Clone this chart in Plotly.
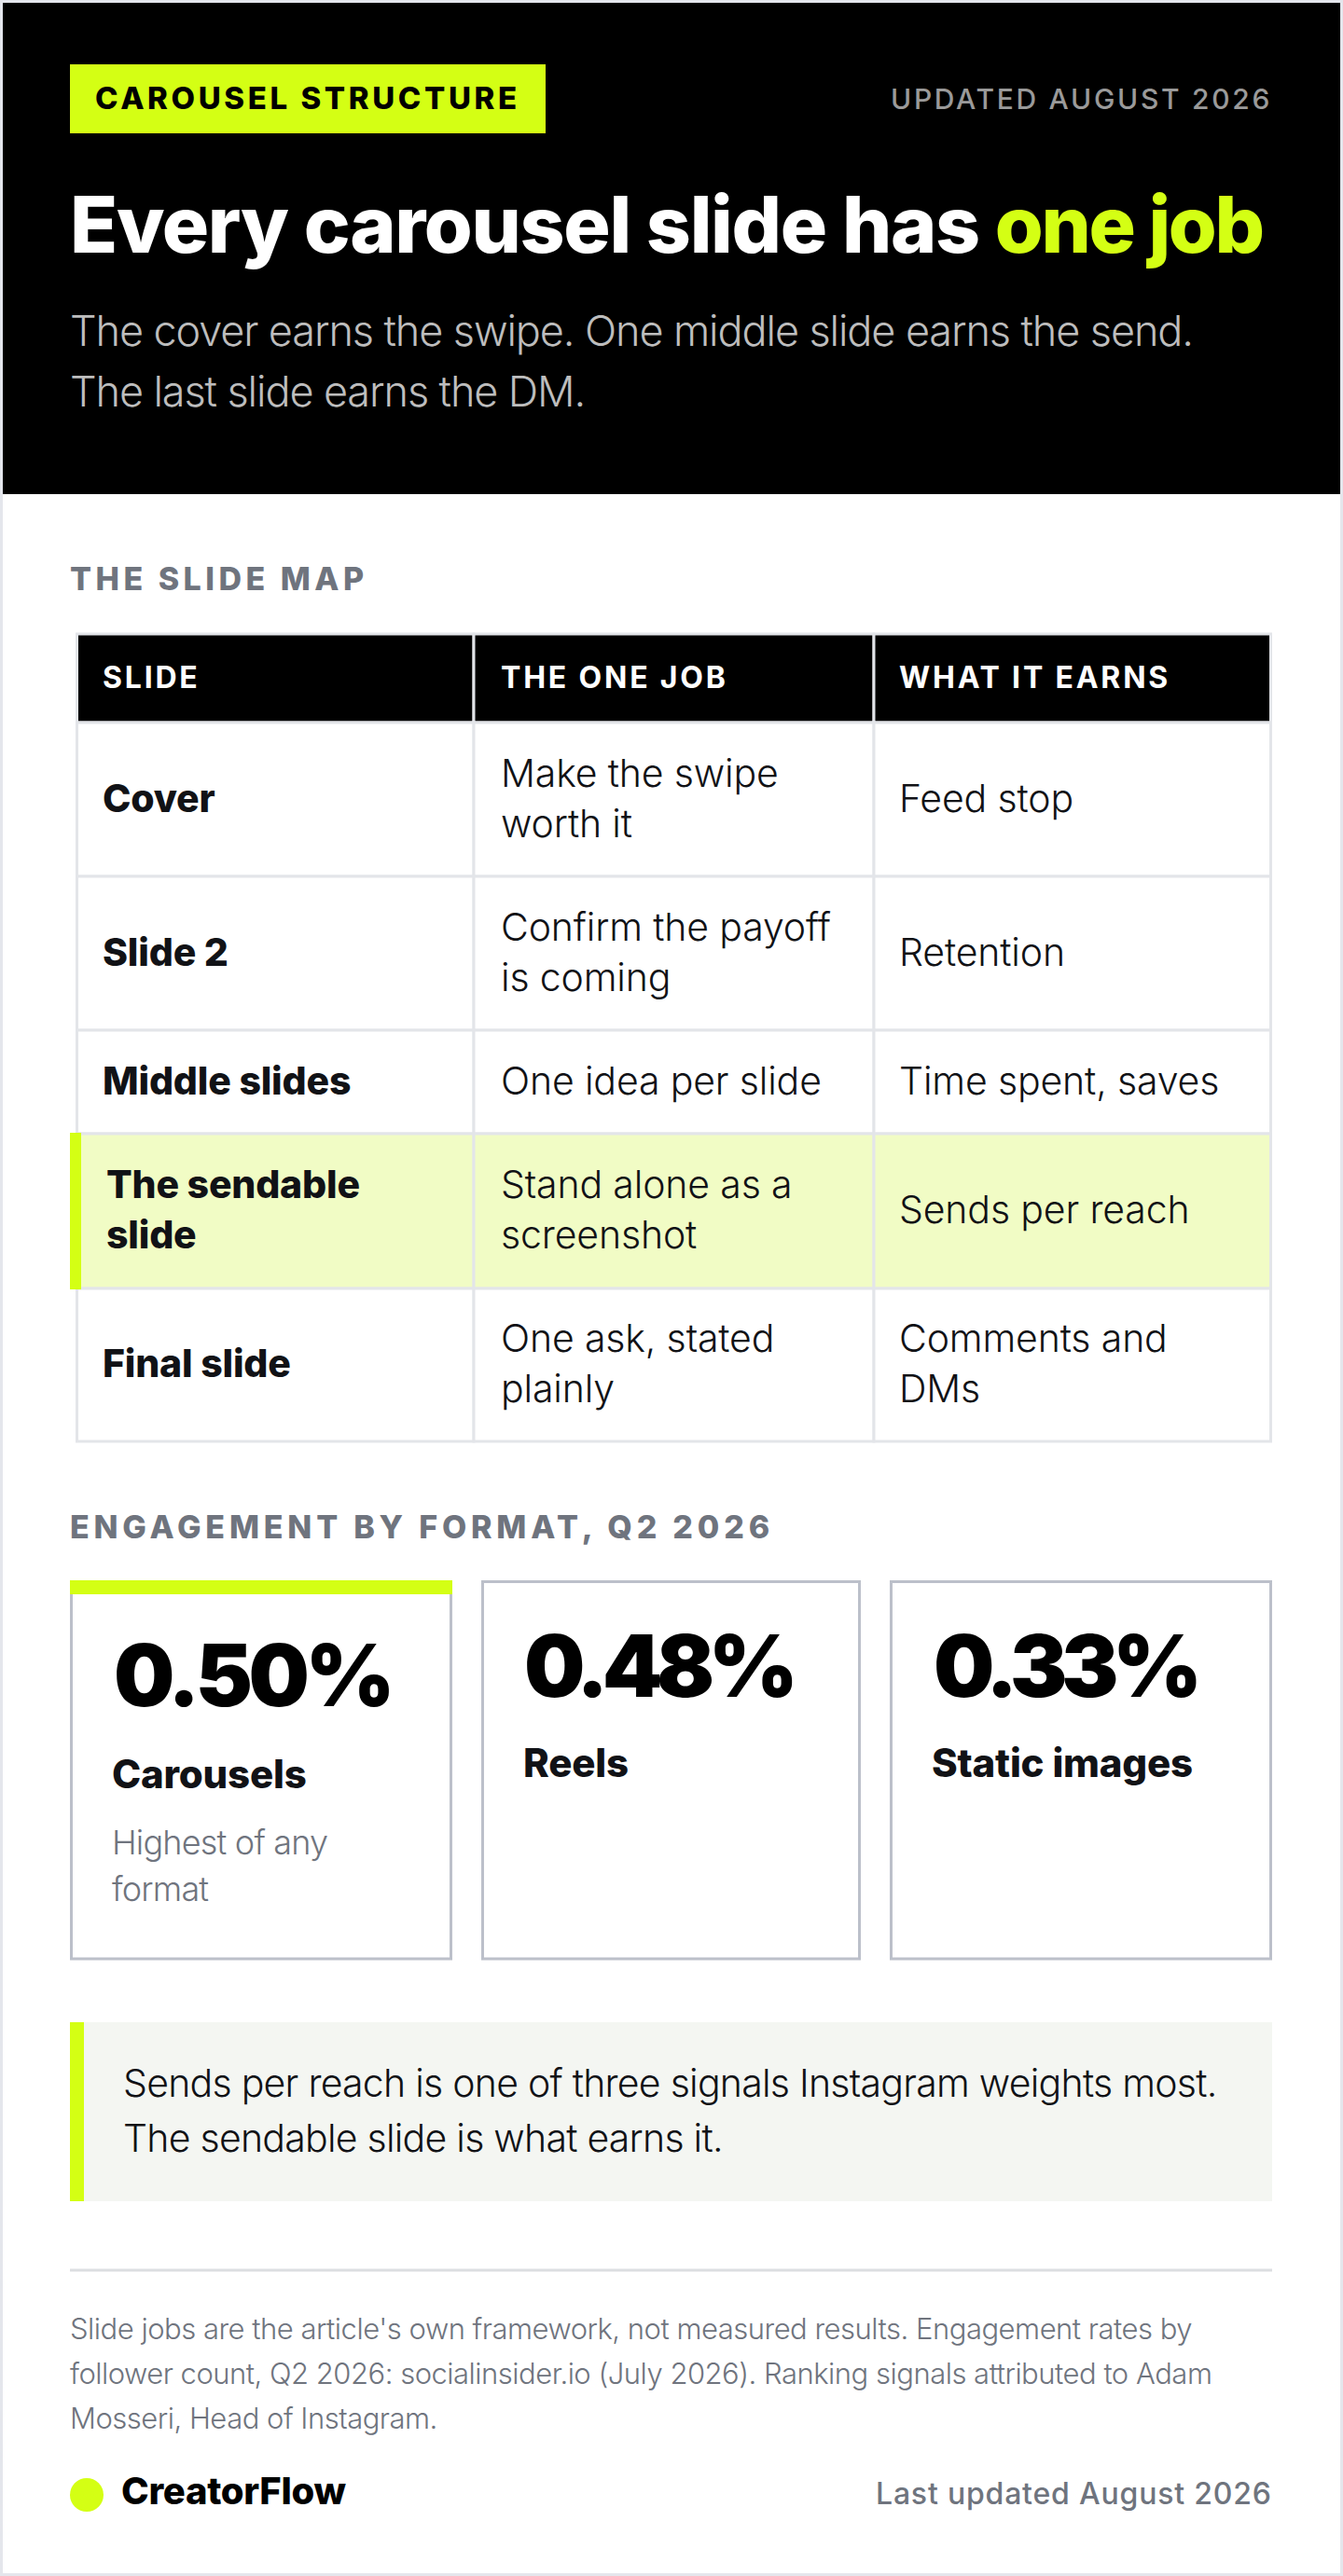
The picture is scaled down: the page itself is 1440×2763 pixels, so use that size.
import plotly.graph_objects as go

WIDTH = 1440
HEIGHT = 2763
FONT = "Inter"

ACCENT = "#d4ff14"
BLACK = "#000000"
INK = "#111216"
GRAY = "#6f747e"
LINE = "#e3e5e9"
CARD_LINE = "#bcc0ca"

badge_text = "CAROUSEL STRUCTURE"
updated_text = "UPDATED AUGUST 2026"
title_white = "Every carousel slide has "
title_accent = "one job"
subtitle_lines = ["The cover earns the swipe. One middle slide earns the send.",
                  "The last slide earns the DM."]

table_label = "THE SLIDE MAP"
table_header = ["SLIDE", "THE ONE JOB", "WHAT IT EARNS"]
slide_names = [["Cover"], ["Slide 2"], ["Middle slides"], ["The sendable", "slide"], ["Final slide"]]
slide_jobs = [["Make the swipe", "worth it"], ["Confirm the payoff", "is coming"], ["One idea per slide"],
              ["Stand alone as a", "screenshot"], ["One ask, stated", "plainly"]]
slide_earns = [["Feed stop"], ["Retention"], ["Time spent, saves"], ["Sends per reach"], ["Comments and", "DMs"]]
highlight_row = 3

cards_label = "ENGAGEMENT BY FORMAT, Q2 2026"
formats = ["Carousels", "Reels", "Static images"]
engagement = [0.50, 0.48, 0.33]
format_note = ["Highest of any", "format"]

callout_lines = ["Sends per reach is one of three signals Instagram weights most.",
                 "The sendable slide is what earns it."]
source_lines = ["Slide jobs are the article's own framework, not measured results. Engagement rates by",
                "follower count, Q2 2026: socialinsider.io (July 2026). Ranking signals attributed to Adam",
                "Mosseri, Head of Instagram."]
brand = "CreatorFlow"
footer_right = "Last updated August 2026"

# layout grid, in page pixels
col_edges = [82.5, 508, 937, 1362.5]
col_text = [110, 537, 964]
row_edges = [680, 775, 940, 1105, 1216, 1382, 1546]
card_edges = [(75, 485), (516, 923), (954, 1364)]

fig = go.Figure()
shapes = []
notes = []


def rect(x0, y0, x1, y1, fill, line=None, width=0):
    shapes.append(dict(type="rect", x0=x0, y0=y0, x1=x1, y1=y1, fillcolor=fill, layer="below",
                       line=dict(color=line, width=width) if line else dict(width=0)))


def text(x, y, s, size, color=INK, weight=400, anchor="left", spacing=0):
    notes.append(dict(x=x, y=y, xref="x", yref="y", showarrow=False, xanchor=anchor, yanchor="middle",
                      align=anchor, borderpad=0, borderwidth=0,
                      text=f'<span style="letter-spacing:{spacing}px">{s}</span>',
                      font=dict(family=FONT, size=size, color=color, weight=weight)))


def lines(x, yc, rows, step, **kw):
    top = yc - step * (len(rows) - 1) / 2
    for i, row in enumerate(rows):
        text(x, top + i * step, row, **kw)


# page and header
rect(0, 0, WIDTH, HEIGHT, "#e4e6ec")
rect(3, 3, 1437, 2760, "#ffffff")
rect(3, 3, 1437, 530, BLACK)
rect(75, 69, 585, 143, ACCENT)
text(102, 105, badge_text, 33, BLACK, 800, spacing=3.6)
text(1364, 106, updated_text, 30, "#9a9a9a", 500, "right", spacing=2.7)
title = f'{title_white}<span style="letter-spacing:-2.4px;fill:{ACCENT}">{title_accent}</span>'
text(75, 240, title, 84, "#ffffff", 800, spacing=-1.35)
lines(75, 387, subtitle_lines, 65, size=45, color="#bdbdbd", weight=300, spacing=-1.1)

# slide table
text(75, 620, table_label, 34, GRAY, 800, spacing=4.5)
for c in range(3):
    rect(col_edges[c], row_edges[0], col_edges[c + 1], row_edges[1], BLACK, LINE, 3)
    text(col_text[c], 726, table_header[c], 32, "#ffffff", 700, spacing=2.8)

for r in range(len(slide_names)):
    top, bottom = row_edges[r + 1], row_edges[r + 2]
    yc = (top + bottom) / 2 - 2
    fill = "#f1fcc5" if r == highlight_row else "#ffffff"
    for c in range(3):
        rect(col_edges[c], top, col_edges[c + 1], bottom, fill, LINE, 3)
    name_x = col_text[0] + (4 if r == highlight_row else 0)
    lines(name_x, yc, slide_names[r], 54, size=41, color=INK, weight=800, spacing=-0.2)
    lines(col_text[1], yc, slide_jobs[r], 54, size=41, color=INK, weight=350, spacing=-0.15)
    lines(col_text[2], yc, slide_earns[r], 54, size=41, color=INK, weight=350, spacing=-0.15)
rect(75, row_edges[4] - 1, 87, row_edges[5] + 1, ACCENT)

# engagement cards
text(75, 1637, cards_label, 34, GRAY, 800, spacing=4.8)
for i, (x0, x1) in enumerate(card_edges):
    rect(x0 + 1.5, 1696.5, x1 - 1.5, 2101, "#ffffff", CARD_LINE, 3)
    first = i == 0
    value_x = x0 + (46 if i == 1 else 47)
    text(value_x, 1796 if first else 1786, f"{engagement[i]:.2f}%", 92, BLACK, 900, spacing=-4.5 if first else -6.5)
    text(x0 + 45, 1902 if first else 1890, formats[i], 42, INK, 800, spacing=-0.2)
rect(75, 1695, 485, 1710, ACCENT)
lines(120, 2001, format_note, 50, size=36, color=GRAY, weight=300, spacing=-0.8)

# callout
rect(75, 2169, 1364, 2361, "#f4f6f2")
rect(75, 2169, 90, 2361, ACCENT)
lines(132, 2263, callout_lines, 59, size=41, color=INK, weight=350, spacing=-0.75)

# footer
shapes.append(dict(type="line", x0=75, x1=1364, y0=2435, y1=2435, line=dict(color="#dcdee1", width=3), layer="below"))
lines(75, 2545, source_lines, 48, size=31, color=GRAY, weight=300, spacing=-0.5)
shapes.append(dict(type="circle", x0=75, x1=111, y0=2658, y1=2694, fillcolor=ACCENT, line=dict(width=0), layer="below"))
text(130, 2671, brand, 40, BLACK, 800, spacing=-0.3)
text(1364, 2674, footer_right, 32, GRAY, 500, "right", spacing=0.8)

fig.update_layout(width=WIDTH, height=HEIGHT, margin=dict(l=0, r=0, t=0, b=0),
                  paper_bgcolor="#ffffff", plot_bgcolor="#ffffff", showlegend=False,
                  xaxis=dict(range=[0, WIDTH], visible=False, fixedrange=True),
                  yaxis=dict(range=[HEIGHT, 0], visible=False, fixedrange=True),
                  shapes=shapes, annotations=notes)

# the page's default body margin would push the figure off the canvas
fig.write_html("out.html", config=dict(displayModeBar=False),
               post_script="document.body.style.margin = '0';")
